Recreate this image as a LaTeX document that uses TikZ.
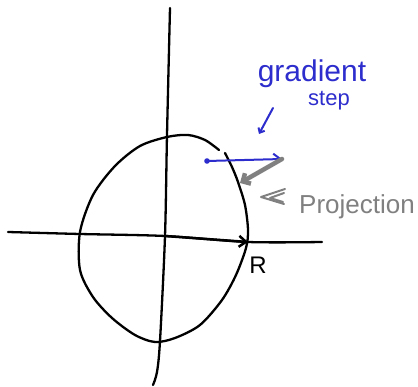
\documentclass[tikz,border=0pt]{standalone}
\usepackage{fontspec}
\setmainfont{Liberation Sans}
\usetikzlibrary{arrows.meta}
\definecolor{penblue}{RGB}{45,45,205}
\definecolor{pengray}{RGB}{128,128,128}
\begin{document}
\begin{tikzpicture}[x=1pt,y=-1pt,
        sketch/.style={line width=2.3pt, line cap=round, line join=round},
        bluepen/.style={sketch, penblue, line width=2pt},
        graypen/.style={sketch, pengray},
        barb/.style={-{Straight Barb[length=7pt,width=11pt]}}]
        \useasboundingbox (0,0) rectangle (418,387);

        % Coordinate axes
        \draw[sketch] plot[smooth] coordinates {(8,232) (80,234) (165,236) (248,242) (322,242)};
        \draw[sketch] plot[smooth] coordinates {(170,8) (167,135) (165,236) (160,341) (157,372) (153,385)};

        % Circle of radius R (with a small gap at the top right)
        \draw[sketch] plot[smooth] coordinates {(219,150) (205,140) (188,135) (167,137) (140,146)
            (115,166) (93,195) (80,232) (80,270) (93,297) (112,318) (135,335) (155,342) (175,338)
            (200,325) (222,300) (236,275) (246,248) (248,230) (245,205) (238,182) (232,167) (225,153)};

        % Radius
        \coordinate (O) at (165,236);
        \coordinate (Rpt) at (248,242);
        \draw[sketch, line width=2.5pt, barb] (O) -- (Rpt);
        \node[font=\fontsize{24}{24}\selectfont] (Rlabel) at (258,265) {R};

        % Gradient step
        \coordinate (x0) at (207,161);
        \coordinate (x1) at (282,159);
        \fill[penblue] (x0) circle (2.8pt);
        \draw[bluepen, barb] (x0) -- (x1);
        \node[penblue, font=\fontsize{30}{30}\selectfont] (grad) at (312,74) {gradient};
        \node[penblue, font=\fontsize{22}{22}\selectfont] (step) at (329,101) {step};
        \coordinate (g0) at (273,108);
        \coordinate (g1) at (259,134);
        \draw[bluepen, -{Straight Barb[length=4pt,width=7pt]}] (g0) -- (g1);

        % Projection back onto the circle
        \coordinate (proj) at (240,183);
        \draw[graypen, line width=4.5pt, -{Straight Barb[length=6pt,width=12pt]}] (x1) -- (proj);
        \draw[graypen, line width=2pt] (285,189) -- (261,197) -- (284,204);
        \draw[graypen, line width=2pt] (284,193) -- (270,198) -- (283,202);
        \node[pengray, font=\fontsize{26}{26}\selectfont] (projlabel) at (357,207) {Projection};
\end{tikzpicture}
\end{document}
